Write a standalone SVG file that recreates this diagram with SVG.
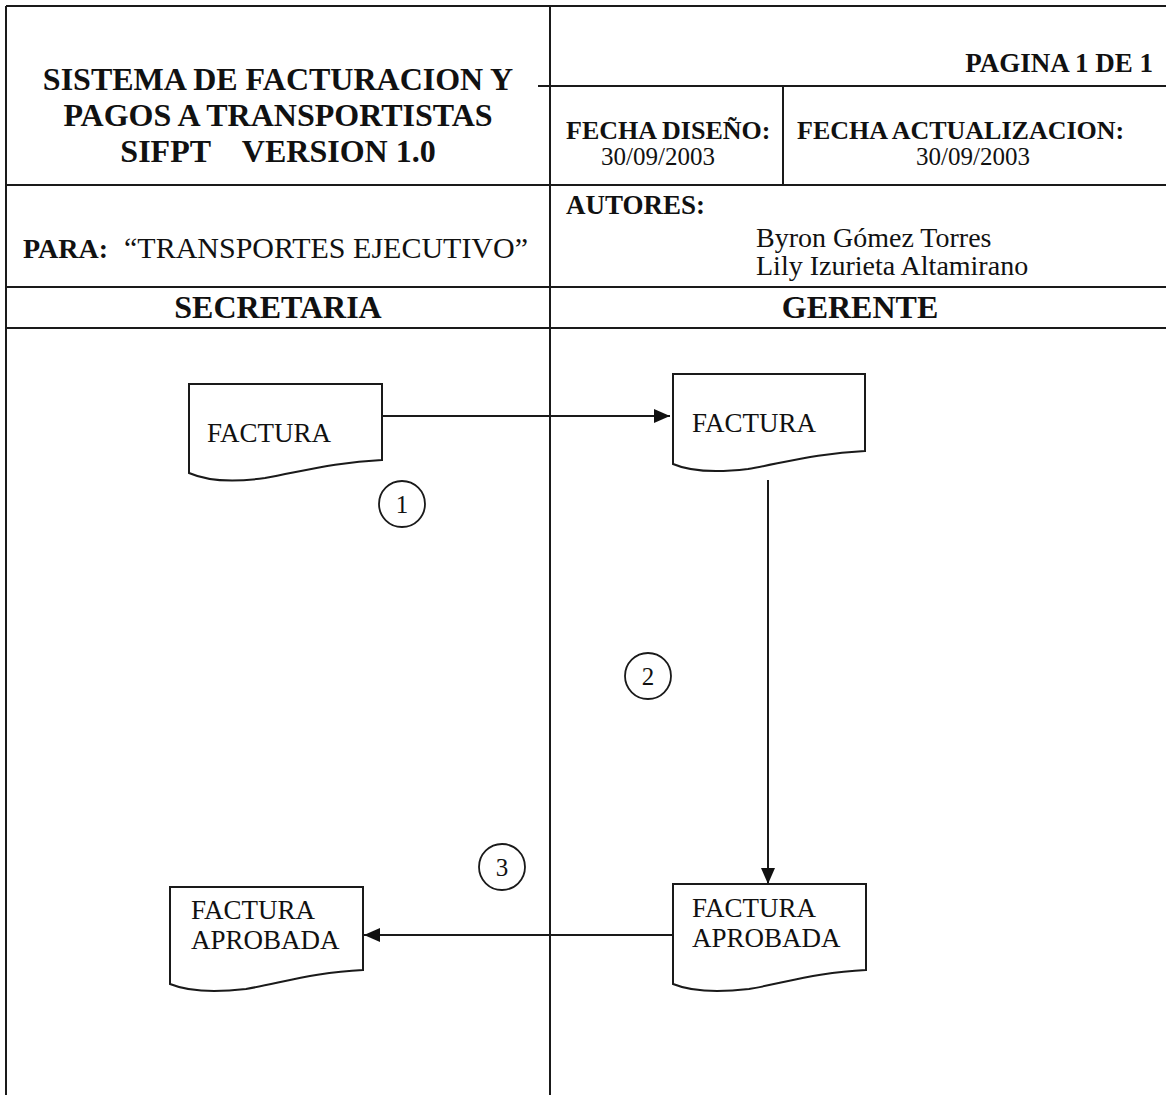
<svg xmlns="http://www.w3.org/2000/svg" width="1166" height="1095" viewBox="0 0 1166 1095">
<style>
.ln{stroke:#1a1a1a;stroke-width:2;fill:none}
.doc{stroke:#1a1a1a;stroke-width:2;fill:#fff}
.cir{stroke:#1a1a1a;stroke-width:1.8;fill:#fff}
.b{font-family:"Liberation Serif","Times New Roman",serif;font-weight:bold;fill:#111}
.r{font-family:"Liberation Serif","Times New Roman",serif;fill:#111}
.t{font-family:"Liberation Serif","Times New Roman",serif;fill:#111;font-size:27px}
.n{font-family:"Liberation Serif","Times New Roman",serif;fill:#111;font-size:25px;text-anchor:middle}
</style>
<defs>
<marker id="ah" viewBox="0 0 16 14" refX="16" refY="7" markerWidth="16" markerHeight="14" markerUnits="userSpaceOnUse" orient="auto">
<path d="M0,0 L16,7 L0,14 Z" fill="#111"/>
</marker>
</defs>
<rect width="1166" height="1095" fill="#fff"/>
<g id="frame">
<line class="ln" x1="6" y1="6" x2="1166" y2="6"/>
<line class="ln" x1="6" y1="6" x2="6" y2="1095"/>
<line class="ln" x1="550" y1="6" x2="550" y2="1095"/>
<line class="ln" x1="538" y1="86" x2="1166" y2="86"/>
<line class="ln" x1="783" y1="86" x2="783" y2="185"/>
<line class="ln" x1="6" y1="185" x2="1166" y2="185"/>
<line class="ln" x1="6" y1="287" x2="1166" y2="287"/>
<line class="ln" x1="6" y1="328" x2="1166" y2="328"/>
</g>
<g id="header">
<text class="b" font-size="32" text-anchor="middle" x="278" y="90">SISTEMA DE FACTURACION Y</text>
<text class="b" font-size="32" text-anchor="middle" x="278" y="126">PAGOS A TRANSPORTISTAS</text>
<text class="b" font-size="32" text-anchor="middle" x="278" y="162" xml:space="preserve">SIFPT    VERSION 1.0</text>
<text class="b" font-size="27" text-anchor="end" x="1153" y="72">PAGINA 1 DE 1</text>
<text class="b" font-size="26" x="566" y="139">FECHA DISEÑO:</text>
<text class="r" font-size="25" text-anchor="middle" x="658" y="165">30/09/2003</text>
<text class="b" font-size="26" x="797" y="139">FECHA ACTUALIZACION:</text>
<text class="r" font-size="25" text-anchor="middle" x="973" y="165">30/09/2003</text>
<text class="b" font-size="27" x="566" y="214">AUTORES:</text>
<text class="r" font-size="28" x="756" y="247">Byron Gómez Torres</text>
<text class="r" font-size="28" x="756" y="275">Lily Izurieta Altamirano</text>
<text class="b" font-size="28" x="23" y="258">PARA:</text>
<text class="r" font-size="30" x="124" y="258">“TRANSPORTES EJECUTIVO”</text>
<text class="b" font-size="32" text-anchor="middle" x="278" y="318">SECRETARIA</text>
<text class="b" font-size="32" text-anchor="middle" x="860" y="318">GERENTE</text>
</g>
<g id="connectors">
<line class="ln" x1="382" y1="416" x2="670" y2="416" marker-end="url(#ah)"/>
<line class="ln" x1="768" y1="480" x2="768" y2="884" marker-end="url(#ah)"/>
<line class="ln" x1="672" y1="935" x2="364" y2="935" marker-end="url(#ah)"/>
</g>
<g id="doc1">
<path class="doc" d="M189,384 H382 V460 C335,462 300,472 265,478 C230,483 205,480 189,473 Z"/>
<text class="t" x="207" y="442">FACTURA</text>
</g>
<g id="doc2">
<path class="doc" d="M673,374 H865 V451 C818,453 783,463 748,469 C713,473 689,471 673,464 Z"/>
<text class="t" x="692" y="432">FACTURA</text>
</g>
<g id="doc3">
<path class="doc" d="M673,884 H866 V970 C819,972 784,983 749,989 C714,993 690,991 673,984 Z"/>
<text class="t" x="692" y="917">FACTURA</text>
<text class="t" x="692" y="947">APROBADA</text>
</g>
<g id="doc4">
<path class="doc" d="M170,887 H363 V970 C316,972 281,983 246,989 C211,993 187,991 170,984 Z"/>
<text class="t" x="191" y="919">FACTURA</text>
<text class="t" x="191" y="949">APROBADA</text>
</g>
<g id="step1">
<circle class="cir" cx="402" cy="504" r="23"/>
<text class="n" x="402" y="513">1</text>
</g>
<g id="step2">
<circle class="cir" cx="648" cy="676" r="23"/>
<text class="n" x="648" y="685">2</text>
</g>
<g id="step3">
<circle class="cir" cx="502" cy="867" r="23"/>
<text class="n" x="502" y="876">3</text>
</g>
</svg>
